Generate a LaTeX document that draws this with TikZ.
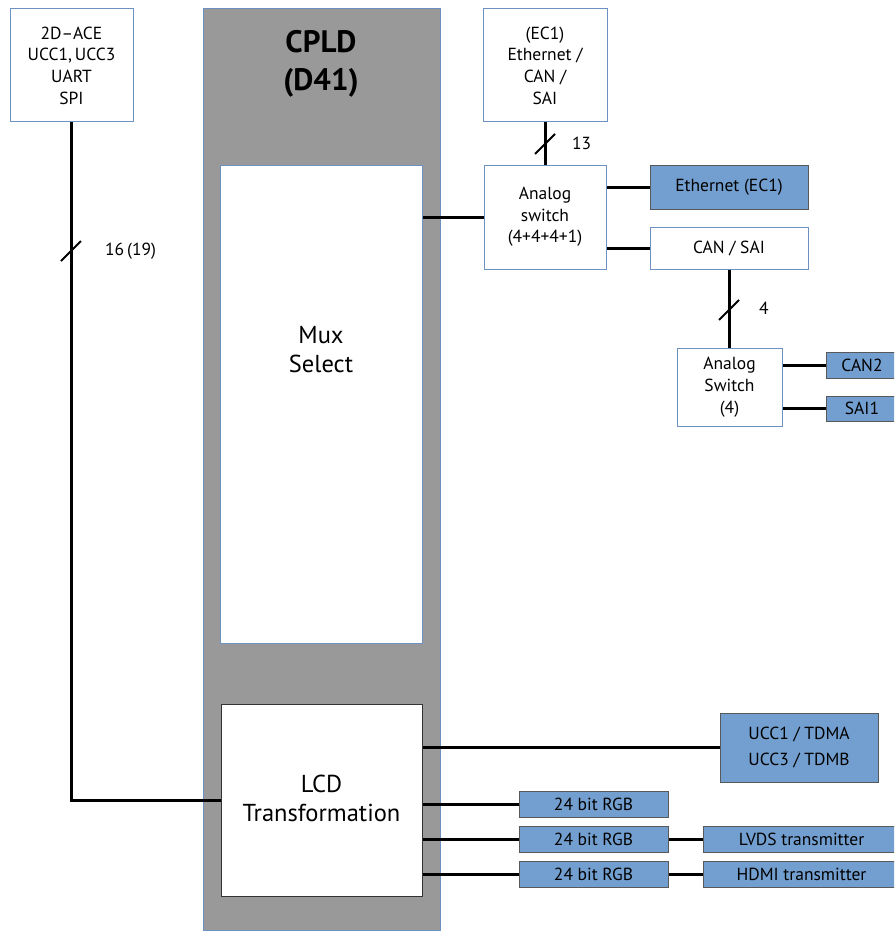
\documentclass[tikz,border=0pt]{standalone}
\usepackage{fontspec}
\setmainfont{PT Sans}
\usetikzlibrary{calc}
\definecolor{boxblue}{RGB}{114,159,207}
\definecolor{edgeblue}{RGB}{110,145,195}
\definecolor{cpldgray}{RGB}{153,153,153}
\begin{document}
\begin{tikzpicture}[x=1pt,y=-1pt,
  wbox/.style={draw=edgeblue, line width=1pt, fill=white, inner sep=0pt, align=center, font=\fontsize{17.5}{21.7}\selectfont},
  bbox/.style={draw=black!65, line width=1pt, fill=boxblue, inner sep=0pt, align=center, font=\fontsize{17.5}{25.5}\selectfont},
  bigbox/.style={draw=edgeblue, line width=1pt, fill=white, inner sep=0pt},
  bigtext/.style={align=center, inner sep=0pt, font=\fontsize{24.5}{29}\selectfont},
  conn/.style={line width=3pt},
  busmark/.style={line width=2pt},
  buslabel/.style={font=\fontsize{17.5}{18}\selectfont, anchor=west, inner sep=0pt}]
\clip (0,0) rectangle (894,931);
\fill[white] (0,0) rectangle (894,931);
% CPLD
\node[draw=edgeblue, line width=1pt, fill=cpldgray, inner sep=0pt, minimum width=237pt, minimum height=921pt] (cpld) at (321.5,469.5) {};
\node[font=\fontsize{31}{38}\selectfont\bfseries, align=center, inner sep=0pt] (title) at (321,64) {CPLD\\(D41)};
\node[bigbox, minimum width=202pt, minimum height=478pt] (mux) at (321,404) {};
\node[bigtext] (muxtext) at (321,349.5) {Mux\\Select};
\node[bigbox, draw=black!80, minimum width=201pt, minimum height=192pt] (lcd) at (321.5,800) {};
\node[bigtext] (lcdtext) at (321.5,798.5) {LCD\\Transformation};
% left
\node[wbox, minimum width=123pt, minimum height=113pt] (ace) at (71.5,65.5) {2D--ACE\\UCC1,\,UCC3\\UART\\SPI};
\draw[conn] (ace.south -| 71,0) -- (71,800) -- (lcd.west);
\coordinate (s1) at (71,251);
\draw[busmark] (s1) ++(-10,10) -- ++(20,-20);
\node[buslabel] (l1) at (105,251) {16\,(19)};
% top right
\node[wbox, minimum width=124pt, minimum height=113pt] (ec1) at (545,65.5) {(EC1)\\Ethernet /\\CAN /\\SAI};
\node[wbox, minimum width=122pt, minimum height=104pt] (asw) at (545,217) {Analog\\switch\\(4+4+4+1)};
\draw[conn] (ec1.south) -- (asw.north);
\coordinate (s2) at (545,144);
\draw[busmark] (s2) ++(-10,10) -- ++(20,-20);
\node[buslabel] (l2) at (572,143) {13};
\draw[conn] (asw.west) -- (asw.west -| mux.east);
\node[bbox, minimum width=158pt, minimum height=44pt] (eth) at (729,187) {Ethernet (EC1)};
\node[wbox, minimum width=158pt, minimum height=42pt] (cansai) at (729,248) {CAN / SAI};
\draw[conn] (eth.west) -- (eth.west -| asw.east);
\draw[conn] (cansai.west) -- (cansai.west -| asw.east);
\node[wbox, minimum width=105pt, minimum height=78pt] (asw2) at (729.5,387) {Analog\\Switch\\(4)};
\draw[conn] (cansai.south) -- (asw2.north -| cansai.south);
\coordinate (s3) at (729,310);
\draw[busmark] (s3) ++(-10,10) -- ++(20,-20);
\node[buslabel] (l3) at (759,308) {4};
\node[bbox, minimum width=72pt, minimum height=26pt] (can2) at (862,365) {CAN2};
\node[bbox, minimum width=72pt, minimum height=25pt] (sai1) at (862,408.5) {SAI1};
\draw[conn] (can2.west) -- (can2.west -| asw2.east);
\draw[conn] (sai1.west) -- (sai1.west -| asw2.east);
% bottom right
\node[bbox, minimum width=158pt, minimum height=69pt] (ucc) at (799,747.5) {UCC1 / TDMA\\UCC3 / TDMB};
\draw[conn] (ucc.west) -- (ucc.west -| lcd.east);
\node[bbox, minimum width=149pt, minimum height=26pt] (rgb1) at (593.5,804) {24 bit RGB};
\node[bbox, minimum width=149pt, minimum height=26pt] (rgb2) at (593.5,839) {24 bit RGB};
\node[bbox, minimum width=149pt, minimum height=26pt] (rgb3) at (593.5,874) {24 bit RGB};
\node[bbox, minimum width=197pt, minimum height=26pt] (lvds) at (801.5,839) {LVDS transmitter};
\node[bbox, minimum width=197pt, minimum height=26pt] (hdmi) at (801.5,874) {HDMI transmitter};
\draw[conn] (rgb1.west) -- (rgb1.west -| lcd.east);
\draw[conn] (rgb2.west) -- (rgb2.west -| lcd.east);
\draw[conn] (rgb3.west) -- (rgb3.west -| lcd.east);
\draw[conn] (lvds.west) -- (rgb2.east);
\draw[conn] (hdmi.west) -- (rgb3.east);
\end{tikzpicture}
\end{document}
